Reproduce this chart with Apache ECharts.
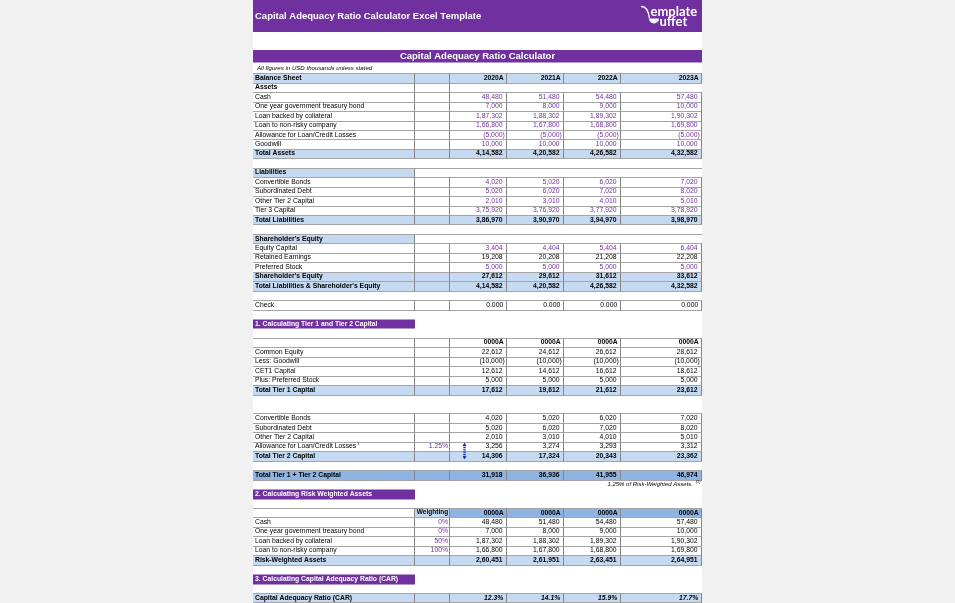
<!DOCTYPE html>
<html><head><meta charset="utf-8">
<script src="https://cdn.jsdelivr.net/npm/echarts@6/dist/echarts.min.js"></script>
<style>html,body{margin:0;padding:0;background:#f1f1f1}#c{width:955px;height:603px}</style>
</head><body><div id="c"></div>
<script>
// ---------- data ----------
const years = ['2020A', '2021A', '2022A', '2023A'];
const placeholderYears = ['0000A', '0000A', '0000A', '0000A'];
const cash = [48480, 51480, 54480, 57480];
const treasury = [7000, 8000, 9000, 10000];
const loanCollateral = [187302, 188302, 189302, 190302];
const loanNonRisky = [166800, 167800, 168800, 169800];
const allowance = [-5000, -5000, -5000, -5000];
const goodwill = [10000, 10000, 10000, 10000];
const totalAssets = [414582, 420582, 426582, 432582];
const convertibleBonds = [4020, 5020, 6020, 7020];
const subordinatedDebt = [5020, 6020, 7020, 8020];
const otherTier2 = [2010, 3010, 4010, 5010];
const tier3 = [375920, 376920, 377920, 378920];
const totalLiabilities = [386970, 390970, 394970, 398970];
const equityCapital = [3404, 4404, 5404, 6404];
const retainedEarnings = [19208, 20208, 21208, 22208];
const preferredStock = [5000, 5000, 5000, 5000];
const shareholdersEquity = [27612, 29612, 31612, 33612];
const totalLiabEquity = [414582, 420582, 426582, 432582];
const check = [0, 0, 0, 0];
const commonEquity = [22612, 24612, 26612, 28612];
const lessGoodwill = [-10000, -10000, -10000, -10000];
const cet1 = [12612, 14612, 16612, 18612];
const plusPreferred = [5000, 5000, 5000, 5000];
const totalTier1 = [17612, 19612, 21612, 23612];
const allowanceTier2 = [3256, 3274, 3293, 3312];
const allowanceRate = '1.25%';
const totalTier2 = [14306, 17324, 20343, 23362];
const totalTier12 = [31918, 36936, 41955, 46974];
const weights = ['0%', '0%', '50%', '100%'];
const riskWeighted = [260451, 261951, 263451, 264951];
const car = [12.3, 14.1, 15.9, 17.7];

// ---------- sheet structure ----------
const rows = [
  {kind: 'note', label: 'All figures in USD thousands unless stated'},
  {kind: 'yearHeader', label: 'Balance Sheet', head: years},
  {kind: 'group', label: 'Assets'},
  {kind: 'input', label: 'Cash', values: cash},
  {kind: 'input', label: 'One year government treasury bond', values: treasury},
  {kind: 'input', label: 'Loan backed by collateral', values: loanCollateral},
  {kind: 'input', label: 'Loan to non-risky company', values: loanNonRisky},
  {kind: 'input', label: 'Allowance for Loan/Credit Losses', values: allowance},
  {kind: 'input', label: 'Goodwill', values: goodwill},
  {kind: 'total', label: 'Total Assets', values: totalAssets},
  {kind: 'blank'},
  {kind: 'subHeader', label: 'Liabilities'},
  {kind: 'input', label: 'Convertible Bonds', values: convertibleBonds},
  {kind: 'input', label: 'Subordinated Debt', values: subordinatedDebt},
  {kind: 'input', label: 'Other Tier 2 Capital', values: otherTier2},
  {kind: 'input', label: 'Tier 3 Capital', values: tier3},
  {kind: 'total', label: 'Total Liabilities', values: totalLiabilities},
  {kind: 'blank'},
  {kind: 'subHeader', label: "Shareholder's Equity"},
  {kind: 'input', label: 'Equity Capital', values: equityCapital},
  {kind: 'calc', label: 'Retained Earnings', values: retainedEarnings},
  {kind: 'input', label: 'Preferred Stock', values: preferredStock},
  {kind: 'total', label: "Shareholder's Equity", values: shareholdersEquity},
  {kind: 'total', label: "Total Liabilities & Shareholder's Equity", values: totalLiabEquity},
  {kind: 'blank'},
  {kind: 'check', label: 'Check', values: check},
  {kind: 'blank'},
  {kind: 'section', label: '1. Calculating Tier 1 and Tier 2 Capital'},
  {kind: 'blank'},
  {kind: 'colHeader', head: placeholderYears},
  {kind: 'calc', label: 'Common Equity', values: commonEquity},
  {kind: 'calc', label: 'Less: Goodwill', values: lessGoodwill},
  {kind: 'calc', label: 'CET1 Capital', values: cet1},
  {kind: 'calc', label: 'Plus: Preferred Stock', values: plusPreferred},
  {kind: 'total', label: 'Total Tier 1 Capital', values: totalTier1},
  {kind: 'blank'},
  {kind: 'blank'},
  {kind: 'calc', label: 'Convertible Bonds', values: convertibleBonds},
  {kind: 'calc', label: 'Subordinated Debt', values: subordinatedDebt},
  {kind: 'calc', label: 'Other Tier 2 Capital', values: otherTier2},
  {kind: 'allow', label: 'Allowance for Loan/Credit Losses', values: allowanceTier2, rate: allowanceRate},
  {kind: 'total', label: 'Total Tier 2 Capital', values: totalTier2},
  {kind: 'blank'},
  {kind: 'grand', label: 'Total Tier 1 + Tier 2 Capital', values: totalTier12},
  {kind: 'footnote', label: '1.25% of Risk-Weighted Assets.'},
  {kind: 'section', label: '2. Calculating Risk Weighted Assets'},
  {kind: 'blank'},
  {kind: 'weightHeader', label: 'Weighting', head: placeholderYears},
  {kind: 'weightRow', label: 'Cash', weight: weights[0], values: cash},
  {kind: 'weightRow', label: 'One year government treasury bond', weight: weights[1], values: treasury},
  {kind: 'weightRow', label: 'Loan backed by collateral', weight: weights[2], values: loanCollateral},
  {kind: 'weightRow', label: 'Loan to non-risky company', weight: weights[3], values: loanNonRisky},
  {kind: 'total', label: 'Risk-Weighted Assets', values: riskWeighted},
  {kind: 'blank'},
  {kind: 'section', label: '3. Calculating Capital Adequacy Ratio (CAR)'},
  {kind: 'blank'},
  {kind: 'ratio', label: 'Capital Adequacy Ratio (CAR)', values: car}
];
const allowRow = rows.findIndex(r => r.kind === 'allow') - 1;

// ---------- layout / style ----------
const FAM = '"Liberation Sans", Arial, sans-serif';
const F = (s, b, i) => (i ? 'italic ' : '') + (b ? 'bold ' : '') + s + 'px ' + FAM;
const PURPLE = '#7030A0', LIGHT = '#C5D9F1', MED = '#8DB4E2';
const HL = '#a5a5a5', VL = '#858585';
const COLS = [0, 162, 197, 254, 311, 368, 449];
const FS = 6.8;

function fmtNum(n) {
  const neg = n < 0;
  const s = Math.abs(n).toString();
  let last3 = s.slice(-3), rest = s.slice(0, -3);
  if (rest) rest = rest.replace(/\B(?=(\d{2})+(?!\d))/g, ',') + ',';
  const out = rest + last3;
  return neg ? '(' + out + ')' : out;
}

function renderItem(params, api) {
  const r = rows[params.dataIndex];
  const yi = api.value(1);
  const top = Math.round(api.coord([0, yi - 0.5])[1]) + 0.5;
  const bot = Math.round(api.coord([0, yi + 0.5])[1]) + 0.5;
  const cy = api.coord([0, yi])[1];
  const X = c => api.coord([c, yi])[0];
  const ch = [];
  const rect = (c0, c1, fill) => ch.push({type: 'rect', shape: {x: X(c0), y: top, width: X(c1) - X(c0), height: bot - top}, style: {fill}});
  const hline = (y, color) => ch.push({type: 'line', shape: {x1: X(0), y1: y, x2: X(449), y2: y}, style: {stroke: color || HL, lineWidth: 1}});
  const vlines = list => list.forEach(c => {
    const x = Math.round(X(c)) - 0.5;
    ch.push({type: 'line', shape: {x1: x, y1: top, x2: x, y2: bot}, style: {stroke: VL, lineWidth: 1}});
  });
  const text = (t, x, align, font, fill, dy) => ch.push({type: 'text', x: x, y: cy + (dy || 0), style: {text: t, font, fill: fill || '#000', align, verticalAlign: 'middle'}});
  const label = (bold, fill) => text(r.label, X(0) + 2, 'left', F(FS, bold), fill);
  const nums = (vals, bold, color, italic, f) => vals.forEach((v, k) => {
    const right = X(COLS[k + 3]);
    if (f) { text(f(v), right - 3.8, 'right', F(FS, bold, italic), color); return; }
    text(fmtNum(v), right - (v < 0 ? 2.3 : 4.5), 'right', F(FS, bold, italic), color);
  });
  const heads = (h) => h.forEach((t, k) => text(t, X(COLS[k + 3]) - 3.3, 'right', F(FS, true)));
  const ALLV = [162, 197, 254, 311, 368, 449];

  switch (r.kind) {
    case 'note':
      text(r.label, X(0) + 4, 'left', F(6.1, false, true)); break;
    case 'yearHeader':
      rect(0, 449, LIGHT); hline(top); hline(bot); vlines(ALLV); label(true); heads(r.head); break;
    case 'group':
      hline(bot); vlines([162, 197]); label(true); break;
    case 'input':
      hline(top); hline(bot); vlines(ALLV); label(false); nums(r.values, false, PURPLE); break;
    case 'calc':
      hline(top); hline(bot); vlines(ALLV); label(false); nums(r.values, false, '#000'); break;
    case 'allow':
      hline(top); hline(bot); vlines(ALLV); label(false); nums(r.values, false, '#000');
      text('1', X(104), 'left', F(4.3), '#000', -2.4);
      text(r.rate, X(197) - 2, 'right', F(FS), PURPLE);
      break;
    case 'total':
      rect(0, 449, LIGHT); hline(top); hline(bot); vlines(ALLV); label(true); nums(r.values, true, '#000'); break;
    case 'grand':
      rect(0, 449, MED); hline(top); hline(bot); vlines(ALLV); label(true); nums(r.values, true, '#000'); break;
    case 'subHeader':
      rect(0, 162, LIGHT); hline(top); vlines([162]); label(true); break;
    case 'check':
      hline(top); hline(bot); vlines(ALLV); label(false); nums(r.values, false, '#000', false, v => v.toFixed(3)); break;
    case 'section':
      rect(0, 162, PURPLE); text(r.label, X(0) + 2, 'left', F(FS, true), '#fff'); break;
    case 'colHeader':
      hline(top); hline(bot, '#95B3D7'); vlines(ALLV); heads(r.head); break;
    case 'footnote':
      text(r.label, X(449) - 9, 'right', F(6, false, true), '#000');
      text('(1)', X(449) - 1.5, 'right', F(3.8, false, true), '#000', -2);
      break;
    case 'weightHeader':
      rect(162, 197, LIGHT); rect(197, 449, MED); hline(top); hline(bot); vlines(ALLV);
      text(r.label, (X(162) + X(197)) / 2, 'center', F(6.5, true)); heads(r.head); break;
    case 'weightRow':
      hline(top); hline(bot); vlines(ALLV); label(false);
      text(r.weight, X(197) - 2, 'right', F(FS), PURPLE); nums(r.values, false, '#000'); break;
    case 'ratio':
      rect(0, 449, LIGHT); hline(top); hline(bot); vlines(ALLV); label(true);
      nums(r.values, true, '#000', true, v => v.toFixed(1) + '%'); break;
  }
  return {type: 'group', children: ch};
}

// trace-precedent arrow drawn on top of the cells
function renderArrow(params, api) {
  const yi = api.value(1);
  const ax = Math.round(api.coord([api.value(0), yi])[0]) + 0.5;
  const y1 = api.coord([0, yi - 0.5])[1] + 1, y2 = api.coord([0, yi + 1.35])[1];
  const col = '#1c2fb0';
  return {type: 'group', children: [
    {type: 'line', shape: {x1: ax, y1: y1 + 2, x2: ax, y2: y2 - 2}, style: {stroke: col, lineWidth: 2.4, lineDash: [1.3, 0.9]}},
    {type: 'polygon', shape: {points: [[ax - 2, y1 + 2.8], [ax + 2, y1 + 2.8], [ax, y1]]}, style: {fill: col}},
    {type: 'polygon', shape: {points: [[ax - 2, y2 - 2.8], [ax + 2, y2 - 2.8], [ax, y2]]}, style: {fill: col}}
  ]};
}

const ROWH = 9.45, FIRST = 78;
const chart = echarts.init(document.getElementById('c'), null, {renderer: 'canvas'});
chart.setOption({
  backgroundColor: '#f1f1f1',
  animation: false,
  grid: {left: 253, width: 449, top: FIRST - 1.5 * ROWH, height: 57 * ROWH},
  xAxis: {type: 'value', min: 0, max: 449, show: false},
  yAxis: {type: 'value', min: -1.5, max: 55.5, inverse: true, show: false},
  graphic: [
    {type: 'rect', z: -10, shape: {x: 253, y: 0, width: 449, height: 603}, style: {fill: '#ffffff'}},
    {type: 'rect', shape: {x: 253, y: 0, width: 449, height: 32}, style: {fill: PURPLE}},
    {type: 'text', x: 255, y: 16.5, style: {text: 'Capital Adequacy Ratio Calculator Excel Template', font: F(9.5, true), fill: '#fff', verticalAlign: 'middle'}},
    {type: 'rect', shape: {x: 253, y: 50, width: 449, height: 12.5}, style: {fill: PURPLE}},
    {type: 'text', x: 477.5, y: 56.5, style: {text: 'Capital Adequacy Ratio Calculator', font: F(9.5, true), fill: '#fff', align: 'center', verticalAlign: 'middle'}},
    // logo
    {type: 'bezierCurve', shape: {x1: 641, y1: 6.5, cpx1: 648, cpy1: 6, x2: 649.5, y2: 18.5}, style: {stroke: '#fff', lineWidth: 1.4, fill: null}},
    {type: 'sector', shape: {cx: 654, cy: 18.5, r0: 0, r: 5, startAngle: 0, endAngle: Math.PI, clockwise: true}, style: {fill: '#fff'}},
    {type: 'text', x: 650.5, y: 12, style: {text: 'emplate', font: 'bold 13px Lato, "DejaVu Sans", sans-serif', fill: '#fff', verticalAlign: 'middle'}},
    {type: 'text', x: 659.5, y: 21.5, style: {text: 'uffet', font: 'bold 13px Lato, "DejaVu Sans", sans-serif', fill: '#fff', verticalAlign: 'middle'}}
  ],
  series: [{
    type: 'custom',
    coordinateSystem: 'cartesian2d',
    clip: false,
    silent: true,
    renderItem,
    encode: {x: 0, y: 1},
    data: rows.map((r, i) => [0, i - 1])
  }, {
    type: 'custom',
    coordinateSystem: 'cartesian2d',
    clip: false,
    silent: true,
    z: 5,
    renderItem: renderArrow,
    encode: {x: 0, y: 1},
    data: [[210.5, allowRow]]
  }]
});
</script></body></html>
